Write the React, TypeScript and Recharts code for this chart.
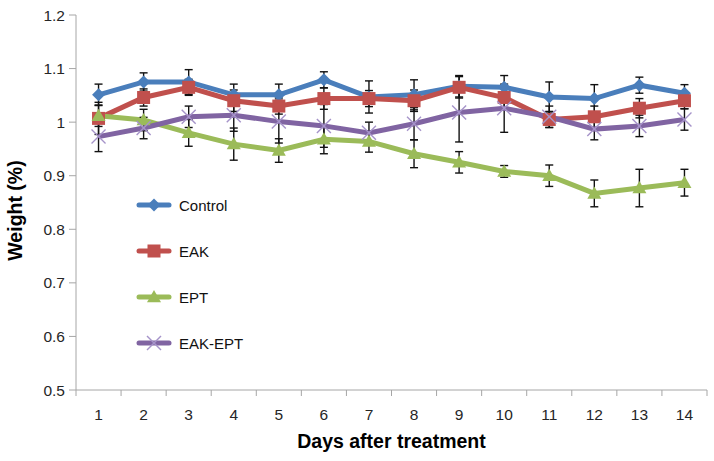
import React from 'react';
import { LineChart, Line, XAxis, YAxis, ErrorBar } from 'recharts';

const days = [1, 2, 3, 4, 5, 6, 7, 8, 9, 10, 11, 12, 13, 14];
const control = [1.051, 1.075, 1.075, 1.051, 1.051, 1.079, 1.047, 1.051, 1.067, 1.065, 1.047, 1.044, 1.069, 1.054];
const controlErr = [0.02, 0.017, 0.023, 0.02, 0.02, 0.015, 0.03, 0.028, 0.02, 0.022, 0.028, 0.026, 0.015, 0.016];
const eak = [1.007, 1.046, 1.065, 1.04, 1.03, 1.044, 1.044, 1.04, 1.065, 1.046, 1.005, 1.01, 1.026, 1.04];
const eakErr = [0.03, 0.016, 0.015, 0.02, 0.015, 0.02, 0.015, 0.02, 0.02, 0.02, 0.015, 0.02, 0.018, 0.015];
const ept = [1.012, 1.004, 0.98, 0.959, 0.947, 0.968, 0.964, 0.941, 0.925, 0.908, 0.9, 0.867, 0.877, 0.887];
const eptErr = [0.02, 0.02, 0.025, 0.03, 0.022, 0.027, 0.02, 0.026, 0.02, 0.011, 0.02, 0.025, 0.035, 0.025];
const eakEpt = [0.973, 0.989, 1.01, 1.013, 1.001, 0.993, 0.98, 0.997, 1.018, 1.026, 1.01, 0.987, 0.993, 1.005];
const eakEptErr = [0.028, 0.02, 0.02, 0.03, 0.04, 0.04, 0.02, 0.03, 0.055, 0.045, 0.02, 0.02, 0.02, 0.02];
const yTicks = [0.5, 0.6, 0.7, 0.8, 0.9, 1, 1.1, 1.2];
const seriesNames = ['Control', 'EAK', 'EPT', 'EAK-EPT'];

const data = days.map((d, i) => ({
  day: d,
  control: control[i],
  controlErr: controlErr[i],
  eak: eak[i],
  eakErr: eakErr[i],
  ept: ept[i],
  eptErr: eptErr[i],
  eakEpt: eakEpt[i],
  eakEptErr: eakEptErr[i],
}));

const COLORS = {
  control: '#4a7ebb',
  eak: '#c0504d',
  ept: '#9bbb59',
  eakEpt: '#8064a2',
};

const FONT = '"Liberation Sans", Arial, sans-serif';
const W = 714;
const H = 461;
const PLOT_LEFT = 76;
const PLOT_RIGHT = 707;
const HALF_BAND = (PLOT_RIGHT - PLOT_LEFT) / days.length / 2;

const Marker = ({ kind, cx, cy }: { kind: string; cx: number; cy: number }) => {
  if (kind === 'control') {
    const r = 6.5;
    return <path d={`M${cx},${cy - r}L${cx + r},${cy}L${cx},${cy + r}L${cx - r},${cy}Z`} fill={COLORS.control} />;
  }
  if (kind === 'eak') {
    const r = 6.5;
    return <rect x={cx - r} y={cy - r} width={2 * r} height={2 * r} fill={COLORS.eak} />;
  }
  if (kind === 'ept') {
    const r = 7;
    return <path d={`M${cx},${cy - r}L${cx + r},${cy + r * 0.75}L${cx - r},${cy + r * 0.75}Z`} fill={COLORS.ept} />;
  }
  const r = 7;
  return (
    <g stroke="#a593c9" strokeWidth={1.4}>
      <line x1={cx - r} y1={cy - r} x2={cx + r} y2={cy + r} />
      <line x1={cx - r} y1={cy + r} x2={cx + r} y2={cy - r} />
    </g>
  );
};

const makeDot = (kind: string) => (props: any) => {
  const { cx, cy, index } = props;
  if (cx == null || cy == null) return <g key={`${kind}-${index}`} />;
  return (
    <g key={`${kind}-${index}`}>
      <Marker kind={kind} cx={cx} cy={cy} />
    </g>
  );
};

const XTick = (props: any) => {
  const { x, y, payload, index } = props;
  return (
    <g>
      {index === 0 ? <line x1={x - HALF_BAND} x2={x - HALF_BAND} y1={y} y2={y + 6} stroke="#a6a6a6" /> : null}
      <line x1={x + HALF_BAND} x2={x + HALF_BAND} y1={y} y2={y + 6} stroke="#a6a6a6" />
      <text x={x} y={y + 30} textAnchor="middle" fill="#262626" fontSize={15.5} fontFamily={FONT}>
        {payload.value}
      </text>
    </g>
  );
};

const kinds = ['control', 'eak', 'ept', 'eakEpt'];

const LegendBox = () => (
  <div style={{ position: 'absolute', left: 136, top: 182, fontFamily: FONT, fontSize: 15, color: '#111' }}>
    {seriesNames.map((name, i) => (
      <div key={name} style={{ height: 46, display: 'flex', alignItems: 'center' }}>
        <svg width={38} height={20} style={{ display: 'block' }}>
          <line x1={3} x2={33} y1={10} y2={10} stroke={COLORS[kinds[i] as keyof typeof COLORS]} strokeWidth={5} strokeLinecap="round" />
          <Marker kind={kinds[i]} cx={18} cy={10} />
        </svg>
        <span style={{ marginLeft: 5 }}>{name}</span>
      </div>
    ))}
  </div>
);

export default function App() {
  return (
    <div style={{ position: 'absolute', left: 0, top: 0, width: W, height: H, background: '#fff' }}>
      <LineChart width={W} height={H} data={data} margin={{ top: 15, right: W - PLOT_RIGHT, bottom: 0, left: 0 }}>
        <XAxis
          dataKey="day"
          type="number"
          domain={[0.5, 14.5]}
          ticks={days}
          allowDataOverflow
          height={71}
          tickLine={false}
          tickSize={0}
          tickMargin={0}
          stroke="#a6a6a6"
          tick={<XTick />}
          interval={0}
          label={{ value: 'Days after treatment', position: 'insideBottom', offset: 13, fill: '#000', fontSize: 19.5, fontWeight: 'bold', fontFamily: FONT }}
        />
        <YAxis
          domain={[0.5, 1.2]}
          ticks={yTicks}
          width={PLOT_LEFT}
          stroke="#a6a6a6"
          tickSize={7}
          tickMargin={4}
          interval={0}
          tick={{ fill: '#262626', fontSize: 15.5, fontFamily: FONT }}
          tickFormatter={(v: number) => String(Math.round(v * 10) / 10)}
          label={{ value: 'Weight (%)', angle: -90, position: 'insideLeft', offset: 15, dy: 8, fill: '#000', fontSize: 19.5, fontWeight: 'bold', fontFamily: FONT, style: { textAnchor: 'middle' } }}
        />
        <Line dataKey="control" name="Control" stroke={COLORS.control} strokeWidth={5} dot={makeDot('control')} activeDot={false} isAnimationActive={false}>
          <ErrorBar dataKey="controlErr" width={4} stroke="#111" strokeWidth={1.4} direction="y" />
        </Line>
        <Line dataKey="eak" name="EAK" stroke={COLORS.eak} strokeWidth={5} dot={makeDot('eak')} activeDot={false} isAnimationActive={false}>
          <ErrorBar dataKey="eakErr" width={4} stroke="#111" strokeWidth={1.4} direction="y" />
        </Line>
        <Line dataKey="ept" name="EPT" stroke={COLORS.ept} strokeWidth={5} dot={makeDot('ept')} activeDot={false} isAnimationActive={false}>
          <ErrorBar dataKey="eptErr" width={4} stroke="#111" strokeWidth={1.4} direction="y" />
        </Line>
        <Line dataKey="eakEpt" name="EAK-EPT" stroke={COLORS.eakEpt} strokeWidth={5} dot={makeDot('eakEpt')} activeDot={false} isAnimationActive={false}>
          <ErrorBar dataKey="eakEptErr" width={4} stroke="#111" strokeWidth={1.4} direction="y" />
        </Line>
      </LineChart>
      <LegendBox />
    </div>
  );
}
